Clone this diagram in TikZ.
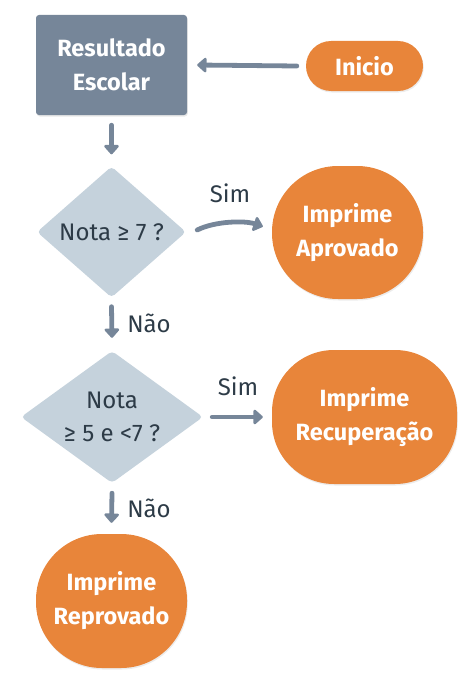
\documentclass[tikz,border=0pt]{standalone}
\usepackage{fontspec}
\setmainfont{Fira Sans}
\usetikzlibrary{shapes.geometric,arrows.meta,shadows}
\definecolor{orng}{HTML}{E8853A}
\definecolor{slate}{HTML}{768699}
\definecolor{pale}{HTML}{C5D2DC}
\definecolor{ink}{HTML}{2D3B47}
\tikzset{
  base/.style={inner sep=0pt, font=\fontsize{23.5}{34}\selectfont\bfseries, text=white, align=center},
  procbox/.style={base, rectangle, fill=slate, rounded corners=3pt, minimum width=151pt, minimum height=100pt,
    drop shadow={opacity=0.18, shadow xshift=0.8pt, shadow yshift=-1.5pt}},
  termbox/.style={base, rectangle, fill=orng, drop shadow={opacity=0.15, shadow xshift=0.8pt, shadow yshift=-1.5pt}},
  decbox/.style={diamond, fill=pale, inner sep=0pt, rounded corners=4pt},
  dectext/.style={inner sep=0pt, font=\fontsize{24}{33}\selectfont, text=ink, align=center},
  lbl/.style={inner sep=0pt, font=\fontsize{24}{28}\selectfont, text=ink},
  arr/.style={draw=slate, line width=4.8pt, line cap=round, -{Triangle[length=10pt,width=17pt,round]}},
}
\begin{document}
\begin{tikzpicture}[x=1pt,y=-1pt]
\useasboundingbox (0,0) rectangle (468,677);
\node[procbox] (res) at (111.5,65) {Resultado\\Escolar};
\node[termbox, minimum width=117pt, minimum height=50pt, rounded corners=25pt] (ini) at (364.5,66) {Inicio};
\node[decbox, minimum width=149pt, minimum height=131pt] (d1) at (111.5,232) {};
\node[dectext] (t1) at (d1.center) {Nota ≥ 7 ?};
\node[termbox, minimum width=151pt, minimum height=133pt, rounded corners=66pt] (apr) at (347.5,232.5) {Imprime\\Aprovado};
\node[decbox, minimum width=182pt, minimum height=132pt] (d2) at (112,417) {};
\node[dectext] (t2) at (d2.center) {Nota\\≥ 5 e <7 ?};
\node[termbox, minimum width=185pt, minimum height=134pt, rounded corners=62pt] (rec) at (364.5,417) {Imprime\\Recuperação};
\node[termbox, minimum width=151pt, minimum height=134pt, rounded corners=66pt] (rep) at (111.5,601) {Imprime\\Reprovado};

\draw[arr] ([xshift=-9pt]ini.west) -- ([xshift=10pt]res.east);
\draw[arr] ([yshift=-10pt]res.south) -- ([yshift=12pt]d1.north);
\draw[arr] ([xshift=11pt,yshift=2pt]d1.east) .. controls +(18,-9) and +(-18,-6) .. ([xshift=-9pt,yshift=6pt]apr.west);
\draw[arr] ([yshift=-9pt]d1.south) -- ([yshift=13pt]d2.north);
\draw[arr] ([xshift=9pt]d2.east) -- ([xshift=-9pt]rec.west);
\draw[arr] ([yshift=-10pt]d2.south) -- ([yshift=11pt]rep.north);

\node[lbl] (s1) at (230,193) {Sim};
\node[lbl] (s2) at (238,386) {Sim};
\node[lbl] (n1) at (149,323) {Não};
\node[lbl] (n2) at (149,508) {Não};
\end{tikzpicture}
\end{document}
